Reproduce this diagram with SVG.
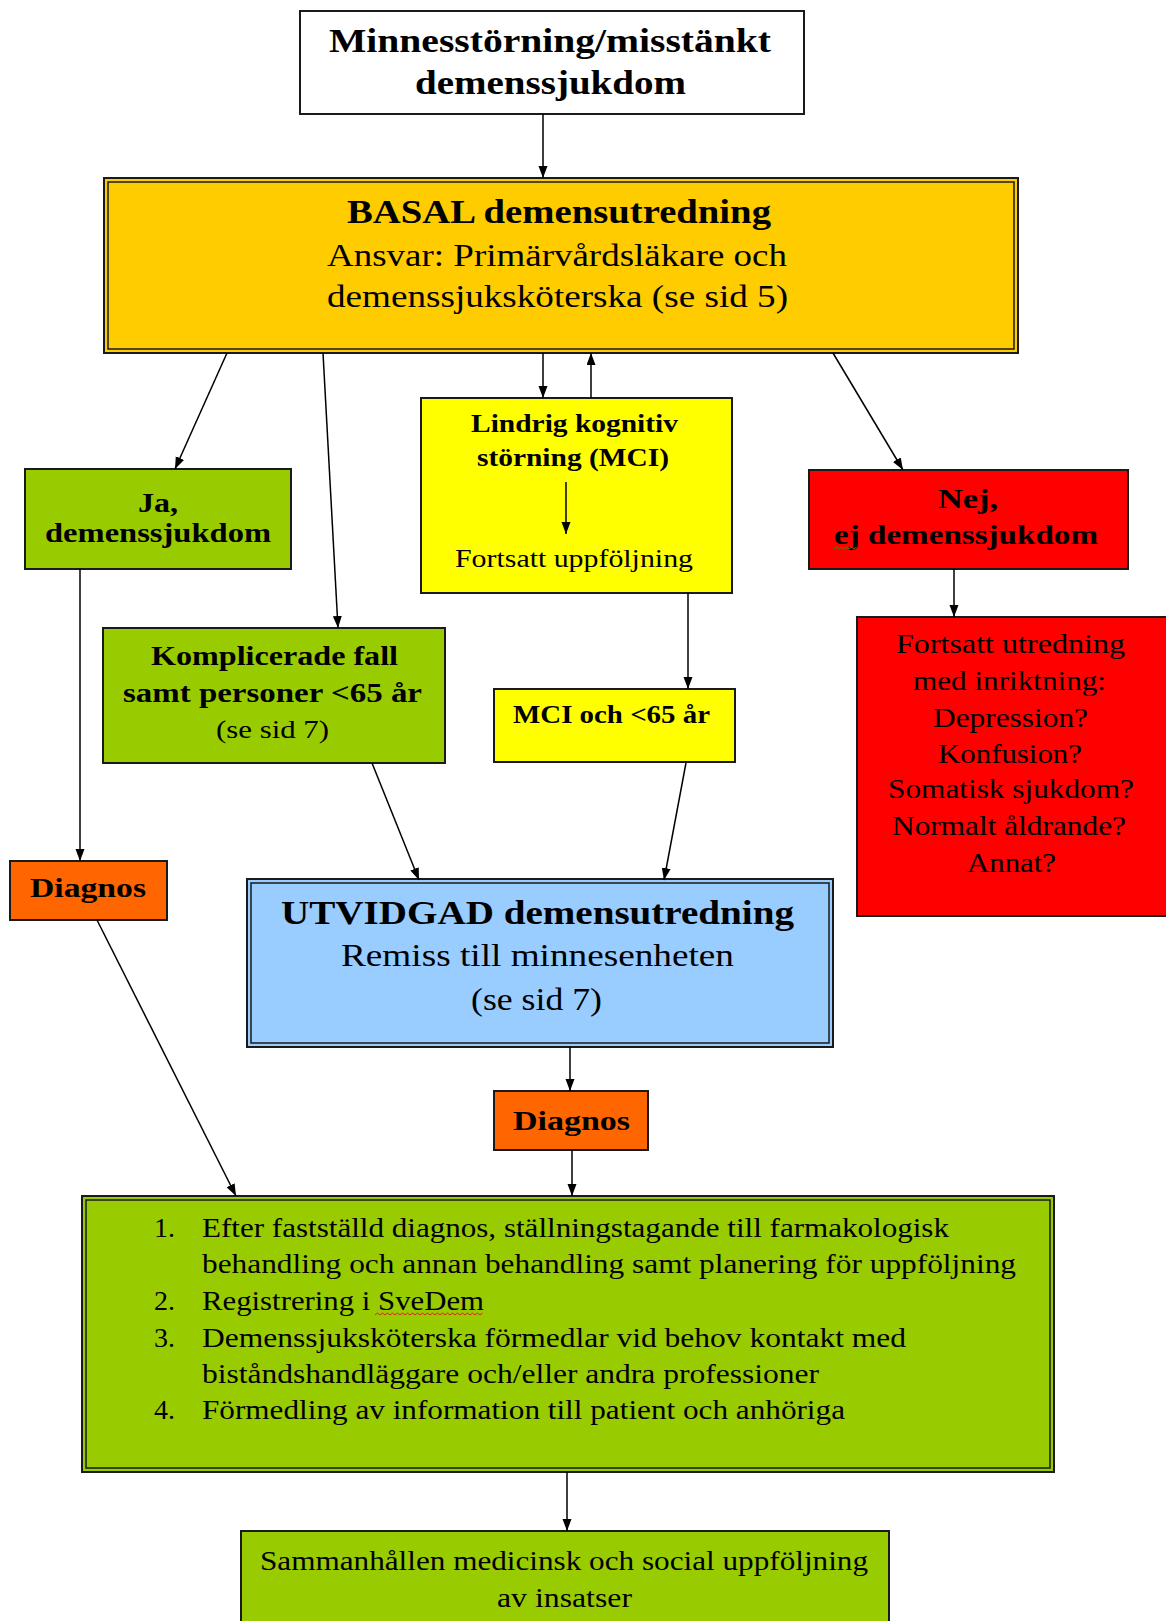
<svg xmlns="http://www.w3.org/2000/svg" width="1166" height="1621" viewBox="0 0 1166 1621">
<style>
text{font-family:"Liberation Serif","Times New Roman",serif;fill:#000}
.b{font-weight:bold}
.box{stroke:#1a1a1a;stroke-width:2}
.in{fill:none;stroke:#1a1a1a;stroke-width:1.5}
.c{fill:none;stroke:#000;stroke-width:1.5}
</style>
<defs>
<marker id="ah" markerUnits="userSpaceOnUse" markerWidth="12" markerHeight="10" refX="12" refY="4.5" orient="auto">
<path d="M0,0 L12,4.5 L0,9 z" fill="#000"/>
</marker>
</defs>
<rect width="1166" height="1621" fill="#fff"/>

<g id="n-start">
<rect class="box" x="300" y="11" width="504" height="103" fill="#fff"/>
<text class="b" x="329" y="52" font-size="34" textLength="442" lengthAdjust="spacingAndGlyphs">Minnesstörning/misstänkt</text>
<text class="b" x="415" y="94" font-size="34" textLength="271" lengthAdjust="spacingAndGlyphs">demenssjukdom</text>
</g>

<g id="n-basal">
<rect class="box" x="104" y="178" width="914" height="175" fill="#FFCC00"/>
<rect class="in" x="108" y="182" width="906" height="167"/>
<text class="b" x="347" y="223" font-size="33" textLength="424" lengthAdjust="spacingAndGlyphs">BASAL demensutredning</text>
<text x="327" y="266" font-size="32" textLength="460" lengthAdjust="spacingAndGlyphs">Ansvar: Primärvårdsläkare och</text>
<text x="327" y="307" font-size="32" textLength="461" lengthAdjust="spacingAndGlyphs">demenssjuksköterska (se sid 5)</text>
</g>

<g id="n-ja">
<rect class="box" x="25" y="469" width="266" height="100" fill="#99CC00"/>
<text class="b" x="138" y="512" font-size="28" textLength="40" lengthAdjust="spacingAndGlyphs">Ja,</text>
<text class="b" x="45" y="542" font-size="28" textLength="226" lengthAdjust="spacingAndGlyphs">demenssjukdom</text>
</g>

<g id="n-mci">
<rect class="box" x="421" y="398" width="311" height="195" fill="#FFFF00"/>
<text class="b" x="471" y="432" font-size="26" textLength="207" lengthAdjust="spacingAndGlyphs">Lindrig kognitiv</text>
<text class="b" x="477" y="466" font-size="26" textLength="192" lengthAdjust="spacingAndGlyphs">störning (MCI)</text>
<line class="c" x1="566" y1="482" x2="566" y2="534" marker-end="url(#ah)"/>
<text x="455" y="567" font-size="25" textLength="238" lengthAdjust="spacingAndGlyphs">Fortsatt uppföljning</text>
</g>

<g id="n-nej">
<rect class="box" x="809" y="470" width="319" height="99" fill="#FF0000"/>
<text class="b" x="938" y="508" font-size="28" textLength="60" lengthAdjust="spacingAndGlyphs">Nej,</text>
<text class="b" x="834" y="544" font-size="28" textLength="264" lengthAdjust="spacingAndGlyphs">ej demenssjukdom</text>
<path d="M834,549 l2.5,-2 l2.5,2 l2.5,-2 l2.5,2 l2.5,-2 l2.5,2 l2.5,-2 l2.5,2 l2.5,-2" fill="none" stroke="#3a8a00" stroke-width="1"/>
</g>

<g id="n-komplicerade">
<rect class="box" x="103" y="628" width="342" height="135" fill="#99CC00"/>
<text class="b" x="151" y="665" font-size="27" textLength="247" lengthAdjust="spacingAndGlyphs">Komplicerade fall</text>
<text class="b" x="123" y="702" font-size="27" textLength="299" lengthAdjust="spacingAndGlyphs">samt personer &lt;65 år</text>
<text x="216" y="738" font-size="26" textLength="113" lengthAdjust="spacingAndGlyphs">(se sid 7)</text>
</g>

<g id="n-mci65">
<rect class="box" x="494" y="689" width="241" height="73" fill="#FFFF00"/>
<text class="b" x="513" y="723" font-size="25" textLength="197" lengthAdjust="spacingAndGlyphs">MCI och &lt;65 år</text>
</g>

<g id="n-fortsatt">
<rect class="box" x="857" y="617" width="312" height="299" fill="#FF0000"/>
<text x="896" y="653" font-size="27" textLength="229" lengthAdjust="spacingAndGlyphs">Fortsatt utredning</text>
<text x="913" y="690" font-size="27" textLength="193" lengthAdjust="spacingAndGlyphs">med inriktning:</text>
<text x="933" y="727" font-size="27" textLength="155" lengthAdjust="spacingAndGlyphs">Depression?</text>
<text x="938" y="763" font-size="27" textLength="144" lengthAdjust="spacingAndGlyphs">Konfusion?</text>
<text x="888" y="798" font-size="27" textLength="246" lengthAdjust="spacingAndGlyphs">Somatisk sjukdom?</text>
<text x="892" y="835" font-size="27" textLength="234" lengthAdjust="spacingAndGlyphs">Normalt åldrande?</text>
<text x="967" y="872" font-size="27" textLength="89" lengthAdjust="spacingAndGlyphs">Annat?</text>
</g>

<g id="n-diagnos1">
<rect class="box" x="10" y="861" width="157" height="59" fill="#FF6600"/>
<text class="b" x="30" y="897" font-size="27" textLength="116" lengthAdjust="spacingAndGlyphs">Diagnos</text>
</g>

<g id="n-utvidgad">
<rect class="box" x="247" y="879" width="586" height="168" fill="#99CCFF"/>
<rect class="in" x="251" y="883" width="578" height="160"/>
<text class="b" x="281" y="924" font-size="33" textLength="513" lengthAdjust="spacingAndGlyphs">UTVIDGAD demensutredning</text>
<text x="341" y="966" font-size="31" textLength="393" lengthAdjust="spacingAndGlyphs">Remiss till minnesenheten</text>
<text x="471" y="1010" font-size="31" textLength="131" lengthAdjust="spacingAndGlyphs">(se sid 7)</text>
</g>

<g id="n-diagnos2">
<rect class="box" x="494" y="1091" width="154" height="59" fill="#FF6600"/>
<text class="b" x="513" y="1130" font-size="27" textLength="117" lengthAdjust="spacingAndGlyphs">Diagnos</text>
</g>

<g id="n-lista">
<rect class="box" x="82" y="1196" width="972" height="276" fill="#99CC00"/>
<rect class="in" x="86" y="1200" width="964" height="268"/>
<text x="154" y="1237" font-size="28">1.</text>
<text x="202" y="1237" font-size="28" textLength="747" lengthAdjust="spacingAndGlyphs">Efter fastställd diagnos, ställningstagande till farmakologisk</text>
<text x="202" y="1273" font-size="28" textLength="814" lengthAdjust="spacingAndGlyphs">behandling och annan behandling samt planering för uppföljning</text>
<text x="154" y="1310" font-size="28">2.</text>
<text x="202" y="1310" font-size="28" textLength="282" lengthAdjust="spacingAndGlyphs">Registrering i SveDem</text>
<path d="M375,1315 l2.5,-2 l2.5,2 l2.5,-2 l2.5,2 l2.5,-2 l2.5,2 l2.5,-2 l2.5,2 l2.5,-2 l2.5,2 l2.5,-2 l2.5,2 l2.5,-2 l2.5,2 l2.5,-2 l2.5,2 l2.5,-2 l2.5,2 l2.5,-2 l2.5,2 l2.5,-2 l2.5,2 l2.5,-2 l2.5,2 l2.5,-2 l2.5,2 l2.5,-2 l2.5,2 l2.5,-2 l2.5,2 l2.5,-2 l2.5,2 l2.5,-2 l2.5,2 l2.5,-2 l2.5,2 l2.5,-2 l2.5,2 l2.5,-2 l2.5,2 l2.5,-2 l2.5,2 l2.5,-2" fill="none" stroke="#e02020" stroke-width="1"/>
<text x="154" y="1347" font-size="28">3.</text>
<text x="202" y="1347" font-size="28" textLength="704" lengthAdjust="spacingAndGlyphs">Demenssjuksköterska förmedlar vid behov kontakt med</text>
<text x="202" y="1383" font-size="28" textLength="617" lengthAdjust="spacingAndGlyphs">biståndshandläggare och/eller andra professioner</text>
<text x="154" y="1419" font-size="28">4.</text>
<text x="202" y="1419" font-size="28" textLength="643" lengthAdjust="spacingAndGlyphs">Förmedling av information till patient och anhöriga</text>
</g>

<g id="n-uppfoljning">
<rect class="box" x="241" y="1531" width="648" height="100" fill="#99CC00"/>
<text x="260" y="1570" font-size="28" textLength="608" lengthAdjust="spacingAndGlyphs">Sammanhållen medicinsk och social uppföljning</text>
<text x="497" y="1607" font-size="28" textLength="135" lengthAdjust="spacingAndGlyphs">av insatser</text>
</g>

<g id="connectors">
<line class="c" x1="543" y1="114" x2="543" y2="178" marker-end="url(#ah)"/>
<line class="c" x1="227" y1="353" x2="175" y2="469" marker-end="url(#ah)"/>
<line class="c" x1="323" y1="353" x2="338" y2="628" marker-end="url(#ah)"/>
<line class="c" x1="543" y1="353" x2="543" y2="398" marker-end="url(#ah)"/>
<line class="c" x1="591" y1="398" x2="591" y2="353" marker-end="url(#ah)"/>
<line class="c" x1="833" y1="353" x2="903" y2="470" marker-end="url(#ah)"/>
<line class="c" x1="688" y1="593" x2="688" y2="689" marker-end="url(#ah)"/>
<line class="c" x1="954" y1="569" x2="954" y2="617" marker-end="url(#ah)"/>
<line class="c" x1="80" y1="569" x2="80" y2="861" marker-end="url(#ah)"/>
<line class="c" x1="372" y1="763" x2="419" y2="880" marker-end="url(#ah)"/>
<line class="c" x1="686" y1="763" x2="664" y2="880" marker-end="url(#ah)"/>
<line class="c" x1="570" y1="1047" x2="570" y2="1091" marker-end="url(#ah)"/>
<line class="c" x1="572" y1="1150" x2="572" y2="1196" marker-end="url(#ah)"/>
<line class="c" x1="97" y1="920" x2="236" y2="1196" marker-end="url(#ah)"/>
<line class="c" x1="567" y1="1472" x2="567" y2="1531" marker-end="url(#ah)"/>
</g>
</svg>
